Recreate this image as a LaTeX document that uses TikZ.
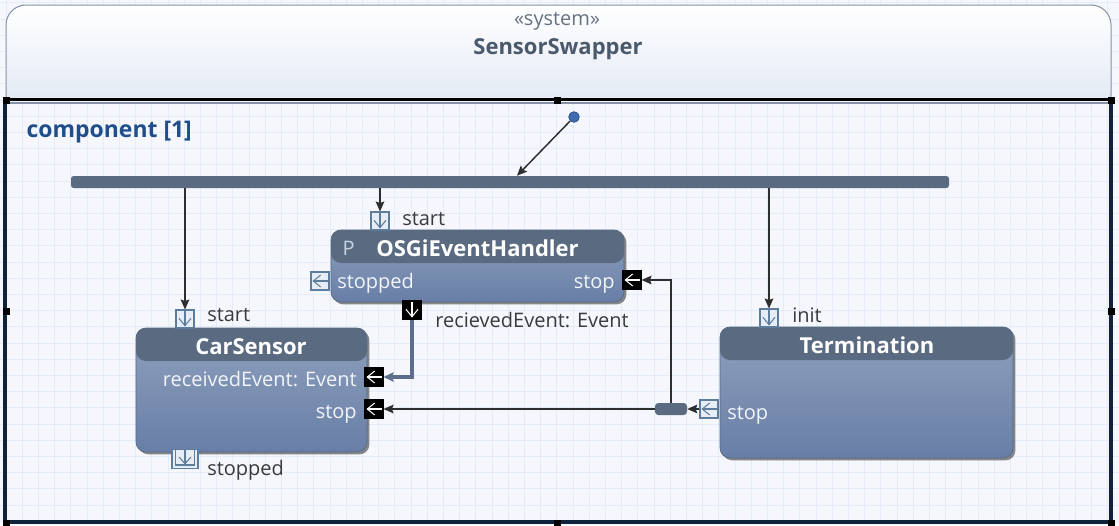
\documentclass[tikz,border=0pt]{standalone}
\usepackage{fontspec}
\setmainfont{Open Sans}
\usetikzlibrary{arrows.meta,shadows,calc}

\definecolor{gridbg}{HTML}{F5F7FD}
\definecolor{gridln}{HTML}{E4EBF9}
\definecolor{hdrbot}{HTML}{DFE6F3}
\definecolor{hdrline}{HTML}{8592A5}
\definecolor{selframe}{HTML}{10213A}
\definecolor{boxhead}{HTML}{5A6A81}
\definecolor{boxtop}{HTML}{8FA1BE}
\definecolor{boxbot}{HTML}{687EA6}
\definecolor{boxedge}{HTML}{56687F}
\definecolor{boxtext}{HTML}{F2F5FA}
\definecolor{ptext}{HTML}{C9D3E2}
\definecolor{portfill}{HTML}{E7EDF6}
\definecolor{portline}{HTML}{5E7C9B}
\definecolor{wire}{HTML}{2E2E2E}
\definecolor{flow}{HTML}{5D6E8C}
\definecolor{comptext}{HTML}{1F4E8A}
\definecolor{systext}{HTML}{4B596C}
\definecolor{labeltext}{HTML}{3A3A3A}
\definecolor{dotblue}{HTML}{3D6CB0}

\tikzset{
  portbase/.style={rectangle, minimum width=13.5pt, minimum height=13.5pt, inner sep=0pt, line width=0.8pt},
  openport/.style={portbase, fill=portfill, draw=portline},
  solidport/.style={portbase, fill=black, draw=black},
  downmark/.style={path picture={
      \draw[#1, line width=0.8pt]
        ([shift={(-4.5pt,0.5pt)}]path picture bounding box.center)
        -- ([shift={(0pt,-5pt)}]path picture bounding box.center)
        -- ([shift={(4.5pt,0.5pt)}]path picture bounding box.center);
      \draw[#1, line width=0.8pt]
        ([shift={(0pt,6.75pt)}]path picture bounding box.center)
        -- ([shift={(0pt,-5pt)}]path picture bounding box.center);}},
  leftmark/.style={path picture={
      \draw[#1, line width=0.8pt]
        ([shift={(0.5pt,4.5pt)}]path picture bounding box.center)
        -- ([shift={(-5pt,0pt)}]path picture bounding box.center)
        -- ([shift={(0.5pt,-4.5pt)}]path picture bounding box.center);
      \draw[#1, line width=0.8pt]
        ([shift={(6.75pt,0pt)}]path picture bounding box.center)
        -- ([shift={(-5pt,0pt)}]path picture bounding box.center);}},
  comp/.style={rectangle, rounded corners=7.5pt, inner sep=0pt,
      top color=boxtop, bottom color=boxbot, draw=boxedge, line width=0.5pt,
      drop shadow={shadow xshift=1.8pt, shadow yshift=-1.8pt, opacity=0.45, fill=black},
      path picture={\fill[boxhead] (path picture bounding box.north west)
        rectangle ([yshift=-24.75pt]path picture bounding box.north east);}},
  handle/.style={rectangle, fill=black, minimum size=5.25pt, inner sep=0pt},
  lbl/.style={font=\fontsize{15}{18}\selectfont, text=labeltext, inner sep=0pt},
  intext/.style={font=\fontsize{15}{18}\selectfont, text=boxtext, inner sep=0pt},
  ttl/.style={font=\bfseries\fontsize{16.5}{20}\selectfont, text=white, inner sep=0pt},
  wire/.style={draw=wire, line width=1.1pt},
  wirearrow/.style={-{Stealth[length=7.5pt,width=6.5pt,inset=1.2pt]}},
  flowline/.style={draw=flow, line width=2.4pt,
      -{Stealth[length=7.5pt,width=7pt,inset=1.2pt]}},
}

\begin{document}
\begin{tikzpicture}[x=0.75pt,y=-0.75pt]
\useasboundingbox (0,0) rectangle (1119,525);

% canvas and grid
\fill[gridbg] (0,0) rectangle (1119,525);
\foreach \i in {-1,...,69}
  \draw[gridln, line width=0.7pt] ({6+16.2*\i},0) -- ({6+16.2*\i},525);
\foreach \j in {-7,...,27}
  \draw[gridln, line width=0.7pt] (0,{100+16.2*\j}) -- (1119,{100+16.2*\j});

% system header
\node[rectangle, rounded corners=15pt, top color=white, bottom color=hdrbot,
      draw=hdrline, line width=0.75pt, minimum width=828.75pt, minimum height=82.5pt]
      (sys) at (558.5,60) {};
\fill[gridbg] (4,101) rectangle (1113,525);
\foreach \i in {0,...,68}
  \draw[gridln, line width=0.7pt] ({6+16.2*\i},101) -- ({6+16.2*\i},522);
\foreach \j in {1,...,26}
  \draw[gridln, line width=0.7pt] (6,{100+16.2*\j}) -- (1111,{100+16.2*\j});

\node[font=\fontsize{15}{18}\selectfont, text=systext!85, anchor=base] (stereo) at (557,25) {«system»};
\node[font=\bfseries\fontsize{16.5}{20}\selectfont, text=systext, anchor=base] (sysname) at (558,54) {SensorSwapper};

% region border and selection frame
\draw[black, line width=1.6pt] (6,99.5) -- (1111,99.5);
\draw[hdrline, line width=1.3pt] (6,103) -- (1111,103);
\draw[selframe, line width=2.4pt] (5,100) -- (5,522) -- (1111,522) -- (1111,100);

\node[handle] (h1) at (6,100) {};
\node[handle] (h2) at (557,100) {};
\node[handle] (h3) at (1111,100) {};
\node[handle] (h4) at (6,311) {};
\node[handle] (h5) at (1111,311) {};
\node[handle] (h6) at (6,523) {};
\node[handle] (h7) at (557,523) {};
\node[handle] (h8) at (1111,523) {};

\node[font=\bfseries\fontsize{17.2}{20}\selectfont, text=comptext, anchor=base west] (region) at (22,137) {component [1]};

% initial state and fork
\node[circle, fill=dotblue, draw=dotblue!70!black, line width=0.5pt, minimum size=8pt, inner sep=0pt] (dot) at (574,117) {};
\node[rectangle, rounded corners=2pt, fill=boxhead, minimum width=658.5pt, minimum height=9pt, inner sep=0pt] (fork) at (510,182) {};

% components
\node[comp, minimum width=219.75pt, minimum height=54pt] (osgi) at (477.5,266) {};
\node[comp, minimum width=173.25pt, minimum height=93pt] (car) at (251.5,390) {};
\node[comp, minimum width=219.75pt, minimum height=98.25pt] (term) at (866.5,392.5) {};

\node[font=\fontsize{15}{18}\selectfont, text=ptext, anchor=base west] (ptag) at (338,255) {P};
\node[ttl, anchor=base] (osgititle) at (477.5,256) {OSGiEventHandler};
\node[intext, anchor=base west] (osgistoppedtxt) at (337,288) {stopped};
\node[intext, anchor=base east] (osgistoptxt) at (615,288) {stop};

\node[ttl, anchor=base] (cartitle) at (251,354) {CarSensor};
\node[intext, anchor=base east] (carrecvtxt) at (357,386) {receivedEvent: Event};
\node[intext, anchor=base east] (carstoptxt) at (357,418) {stop};

\node[ttl, anchor=base] (termtitle) at (867,353) {Termination};
\node[intext, anchor=base west] (termstoptxt) at (727,419) {stop};

% ports
\node[openport, downmark=portline] (osgiStart) at (380,221) {};
\node[openport, leftmark=portline] (osgiStopped) at (320,281) {};
\node[solidport, leftmark=white] (osgiStop) at (632,280) {};
\node[solidport, downmark=white] (osgiRecv) at (412,310) {};

\node[openport, downmark=portline] (carStart) at (185,319) {};
\node[solidport, leftmark=white] (carRecv) at (374,377) {};
\node[solidport, leftmark=white] (carStop) at (374,409) {};
\node[portbase, fill=portfill, draw=portline, minimum width=19.5pt, minimum height=14pt,
      path picture={
        \draw[portline, line width=0.8pt]
          ([shift={(-7pt,7pt)}]path picture bounding box.center) rectangle
          ([shift={(7pt,-4.5pt)}]path picture bounding box.center);
        \draw[portline, line width=0.8pt]
          ([shift={(-4.5pt,1.5pt)}]path picture bounding box.center)
          -- ([shift={(0pt,-3.5pt)}]path picture bounding box.center)
          -- ([shift={(4.5pt,1.5pt)}]path picture bounding box.center);
        \draw[portline, line width=0.8pt]
          ([shift={(0pt,7pt)}]path picture bounding box.center)
          -- ([shift={(0pt,-3.5pt)}]path picture bounding box.center);}]
      (carStopped) at (185,459) {};

\node[openport, downmark=portline] (termInit) at (769,318) {};
\node[openport, leftmark=portline] (termStop) at (709,409) {};
\node[rectangle, rounded corners=2.5pt, fill=boxhead, minimum width=24pt, minimum height=9pt, inner sep=0pt] (junc) at (671,409) {};

% port labels
\node[lbl, anchor=base west] (osgistartlbl) at (402,225) {start};
\node[lbl, anchor=base west] (osgirecvlbl) at (435,327) {recievedEvent: Event};
\node[lbl, anchor=base west] (carstartlbl) at (207,321) {start};
\node[lbl, anchor=base west] (carstoppedlbl) at (207,475) {stopped};
\node[lbl, anchor=base west] (terminitlbl) at (792,322) {init};

% transitions and flows
\draw[wire, wirearrow] (dot) -- ([xshift=5.25pt]fork.north);
\draw[wire, wirearrow] (fork.south -| carStart) -- (carStart.north);
\draw[wire, wirearrow] (fork.south -| osgiStart) -- (osgiStart.north);
\draw[wire, wirearrow] (fork.south -| termInit) -- (termInit.north);
\draw[flowline] (osgiRecv.south) |- (carRecv.east);
\draw[wire, wirearrow] (termStop.west) -- (junc.east);
\draw[wire, wirearrow] (junc.west) -- (carStop.east);
\draw[wire, wirearrow] (junc.north) |- (osgiStop.east);
\end{tikzpicture}
\end{document}
